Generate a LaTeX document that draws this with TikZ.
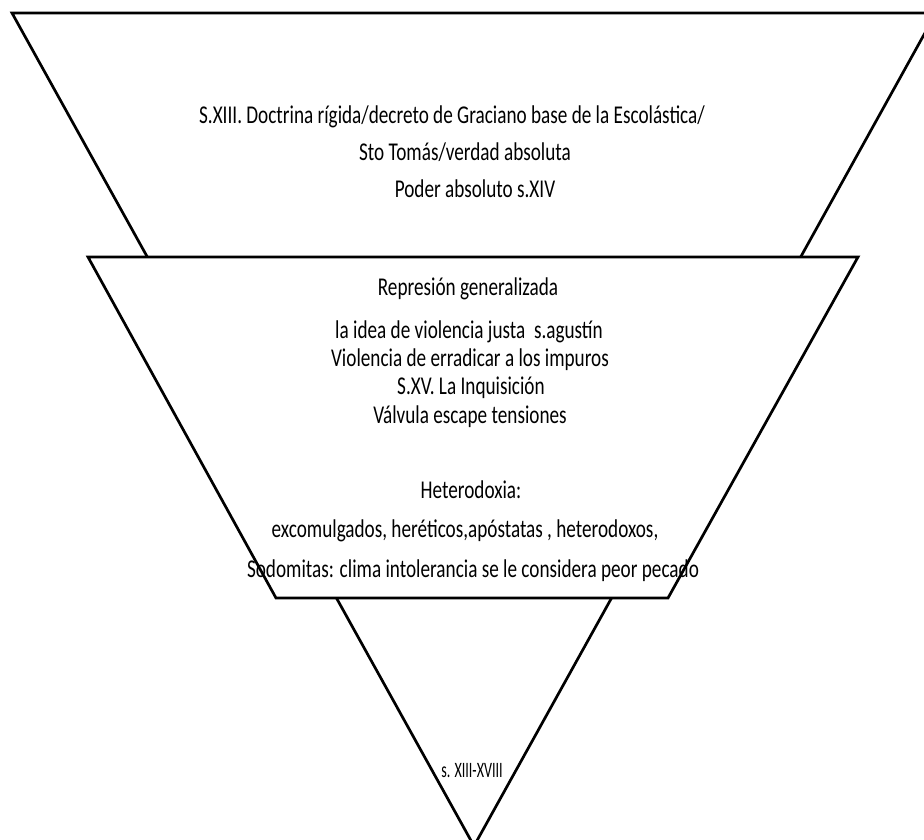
\documentclass[tikz,border=0pt]{standalone}
\usepackage{fontspec}
\setmainfont{Carlito}
% narrow, tall lettering for the labels
\newcommand{\narrowtext}[1]{\scalebox{0.75}[1]{#1}}
\newcommand{\tiptext}[1]{\scalebox{0.64}[1]{#1}}
\begin{document}
\begin{tikzpicture}[x=1pt,y=-1pt,
  outline/.style={line width=2.7pt,line join=miter},
  label/.style={anchor=base,inner sep=0pt,font=\fontsize{25.6}{30}\selectfont},
  smalllabel/.style={anchor=base,inner sep=0pt,font=\fontsize{22}{26}\selectfont}]
\useasboundingbox (0,0) rectangle (924,839);
\clip (0,0) rectangle (924,839);
% outer inverted triangle
\draw[outline] (12,13) -- (936,13) -- (474,846) -- cycle;
% middle band, white so it hides the triangle behind it
\draw[outline,fill=white] (88,257) -- (858,257) -- (668,598) -- (276,598) -- cycle;
% top band text
\node[label] (t1) at (452,123) {\narrowtext{S.XIII. Doctrina rígida/decreto de Graciano base de la Escolástica/}};
\node[label] (t2) at (465,160) {\narrowtext{Sto Tomás/verdad absoluta}};
\node[label] (t3) at (475,197) {\narrowtext{Poder absoluto s.XIV}};
% middle band text
\node[label] (m1) at (468,295) {\narrowtext{Represión generalizada}};
\node[label] (m2) at (469,338) {\narrowtext{la idea de violencia justa\ \ s.agustín}};
\node[label] (m3) at (470,366) {\narrowtext{Violencia de erradicar a los impuros}};
\node[label] (m4) at (471,394) {\narrowtext{S.XV. La Inquisición}};
\node[label] (m5) at (470,423) {\narrowtext{Válvula escape tensiones}};
\node[label] (m6) at (471,498) {\narrowtext{Heterodoxia:}};
\node[label] (m7) at (465,537) {\narrowtext{excomulgados, heréticos,apóstatas , heterodoxos,}};
\node[label] (m8) at (473,577) {\narrowtext{Sodomitas: clima intolerancia se le considera peor pecado}};
% tip text
\node[smalllabel] (b1) at (472,777) {\tiptext{s. XIII-XVIII}};
\end{tikzpicture}
\end{document}
